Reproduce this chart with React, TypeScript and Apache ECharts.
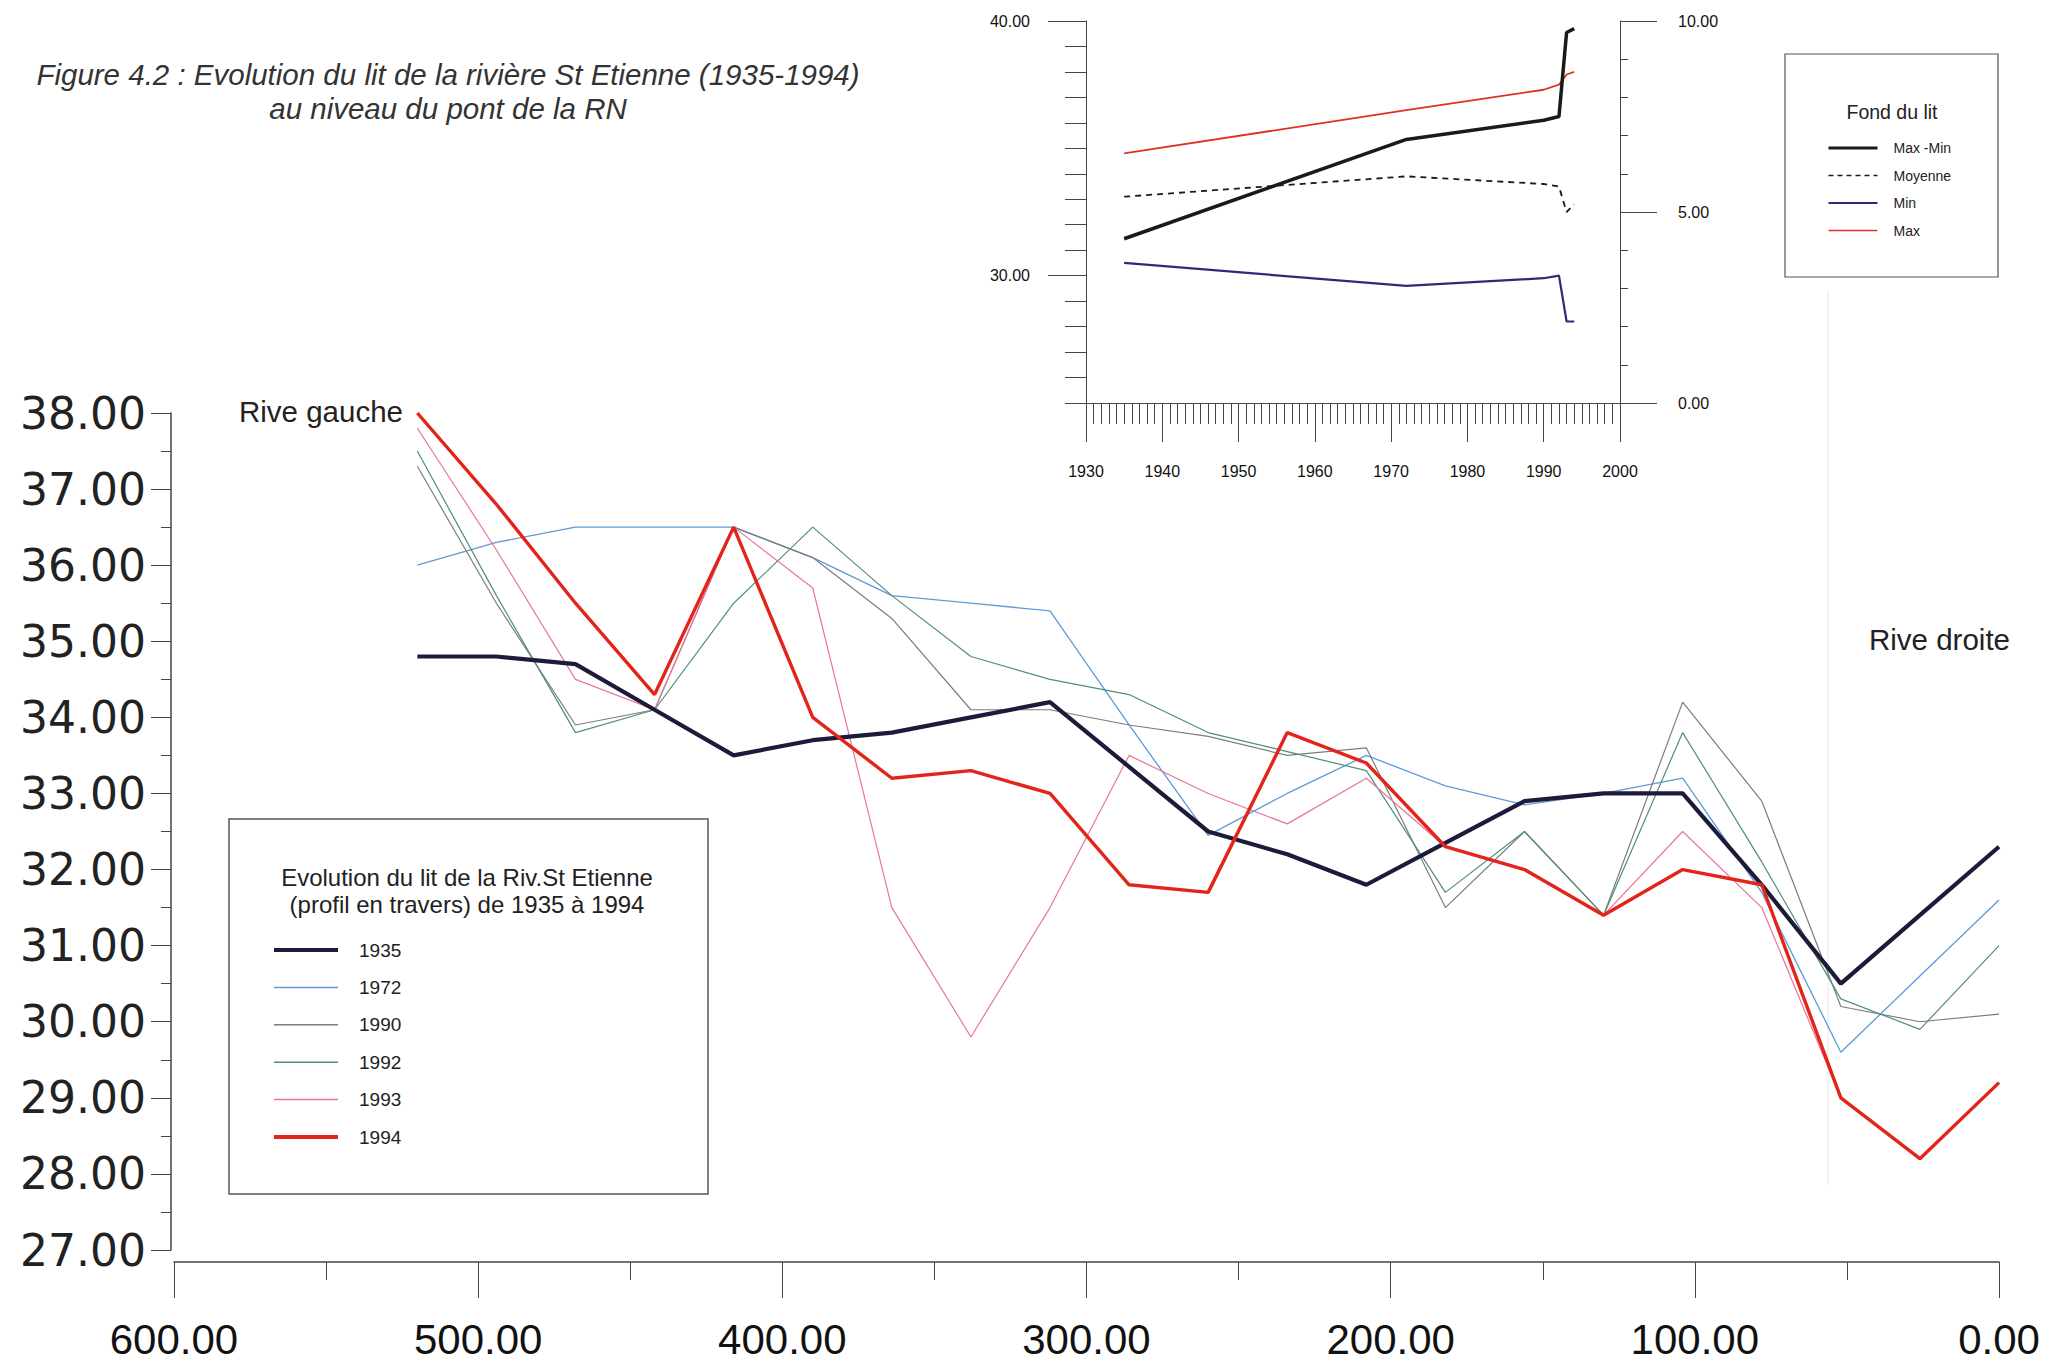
import React, { useEffect, useRef } from "react";
import * as echarts from "echarts";

// ---- Main chart data (cross-section profile, distance in m) ----
const distances = [520, 494, 468, 442, 416, 390, 364, 338, 312, 286, 260, 234, 208, 182, 156, 130, 104, 78, 52, 26, 0];
const y1935 = [34.8, 34.8, 34.7, 34.1, 33.5, 33.7, 33.8, 34.0, 34.2, 33.35, 32.5, 32.2, 31.8, 32.35, 32.9, 33.0, 33.0, 31.8, 30.5, 31.4, 32.3];
const y1972 = [36.0, 36.3, 36.5, 36.5, 36.5, 36.1, 35.6, 35.5, 35.4, 33.9, 32.45, 33.0, 33.5, 33.1, 32.85, 33.0, 33.2, 31.7, 29.6, 30.6, 31.6];
const y1990 = [37.3, 35.5, 33.9, 34.1, 36.5, 36.1, 35.3, 34.1, 34.1, 33.9, 33.75, 33.5, 33.6, 31.5, 32.5, 31.4, 34.2, 32.9, 30.2, 30.0, 30.1];
const y1992 = [37.5, 35.6, 33.8, 34.1, 35.5, 36.5, 35.6, 34.8, 34.5, 34.3, 33.8, 33.55, 33.3, 31.7, 32.5, 31.4, 33.8, 32.1, 30.3, 29.9, 31.0];
const y1993 = [37.8, 36.2, 34.5, 34.1, 36.5, 35.7, 31.5, 29.8, 31.5, 33.5, 33.0, 32.6, 33.2, 32.3, 32.0, 31.4, 32.5, 31.5, 29.0, 28.2, 29.2];
const y1994 = [38.0, 36.8, 35.5, 34.3, 36.5, 34.0, 33.2, 33.3, 33.0, 31.8, 31.7, 33.8, 33.4, 32.3, 32.0, 31.4, 32.0, 31.8, 29.0, 28.2, 29.2];
const yearNames = ["1935", "1972", "1990", "1992", "1993", "1994"];

// ---- Inset data (Fond du lit) ----
const insetYears = [1935, 1972, 1990, 1992, 1993, 1994];
const insetMax = [34.8, 36.5, 37.3, 37.5, 37.9, 38.0];
const insetMin = [30.5, 29.6, 29.9, 30.0, 28.2, 28.2];
const insetMoyenne = [33.1, 33.9, 33.6, 33.5, 32.5, 32.8];
const insetEcart = [4.3, 6.9, 7.4, 7.5, 9.7, 9.8];

const SANS = "'Liberation Sans', Arial, sans-serif";

const colors: Record<string, string> = {
  "1935": "#1e1b3a",
  "1972": "#5d9ad8",
  "1990": "#7a7d80",
  "1992": "#4f8f78",
  "1993": "#e8759a",
  "1994": "#e3241b",
};
const widths: Record<string, number> = {
  "1935": 4.2,
  "1972": 1.3,
  "1990": 1.2,
  "1992": 1.2,
  "1993": 1.2,
  "1994": 3.4,
};

function pairs(xs: number[], ys: number[]) {
  return xs.map((x, i) => [x, ys[i]]);
}

function txt(x: number, y: number, text: string, fontSize: number, align: string, extra: any = {}) {
  return {
    type: "text",
    x,
    y,
    style: {
      text,
      fontSize,
      fontFamily: SANS,
      fill: "#222",
      textAlign: align,
      textVerticalAlign: "middle",
      align,
      verticalAlign: "middle",
      ...extra,
    },
  };
}

export default function App() {
  const ref = useRef<HTMLDivElement>(null);
  useEffect(() => {
    if (!ref.current) return;
    const chart = echarts.init(ref.current, undefined, { renderer: "svg" });
    const mainData: Record<string, number[]> = {
      "1935": y1935,
      "1972": y1972,
      "1990": y1990,
      "1992": y1992,
      "1993": y1993,
      "1994": y1994,
    };
    const drawOrder = ["1972", "1990", "1992", "1993", "1935", "1994"];
    const mainSeries = drawOrder.map((name) => ({
      name,
      type: "line",
      xAxisIndex: 0,
      yAxisIndex: 0,
      symbol: "none",
      showSymbol: false,
      data: pairs(distances, mainData[name]),
      lineStyle: { color: colors[name], width: widths[name] },
      itemStyle: { color: colors[name] },
      z: name === "1994" ? 6 : name === "1935" ? 5 : 3,
    }));

    const axisColor = "#444";
    const option: any = {
      animation: false,
      backgroundColor: "#ffffff",
      grid: [
        { left: 174, right: 49, top: 413, bottom: 111 },
        { left: 1086, right: 428, top: 21, bottom: 958 },
      ],
      xAxis: [
        {
          gridIndex: 0,
          type: "value",
          min: 0,
          max: 600,
          interval: 100,
          inverse: true,
          offset: 12,
          axisLine: { show: true, onZero: false, lineStyle: { color: axisColor, width: 1.5 } },
          axisTick: { show: true, length: 36, lineStyle: { color: axisColor, width: 1 } },
          minorTick: { show: true, splitNumber: 2, length: 18, lineStyle: { color: axisColor, width: 1 } },
          splitLine: { show: false },
          axisLabel: {
            formatter: (v: number) => v.toFixed(2),
            margin: 56,
            fontSize: 42,
            lineHeight: 42,
            fontFamily: SANS,
            color: "#111",
          },
        },
        {
          gridIndex: 1,
          type: "value",
          min: 1930,
          max: 2000,
          interval: 10,
          axisLine: { show: true, onZero: false, lineStyle: { color: axisColor, width: 1 } },
          axisTick: { show: true, length: 39, lineStyle: { color: axisColor, width: 1 } },
          minorTick: { show: true, splitNumber: 10, length: 21, lineStyle: { color: axisColor, width: 1 } },
          splitLine: { show: false },
          axisLabel: {
            formatter: (v: number) => String(v),
            margin: 60,
            fontSize: 16,
            fontFamily: SANS,
            color: "#111",
          },
        },
      ],
      yAxis: [
        {
          gridIndex: 0,
          type: "value",
          position: "left",
          min: 27,
          max: 38,
          interval: 1,
          offset: 3,
          axisLine: { show: true, onZero: false, lineStyle: { color: axisColor, width: 1.5 } },
          axisTick: { show: true, length: 20, lineStyle: { color: axisColor, width: 1 } },
          minorTick: { show: true, splitNumber: 2, length: 10, lineStyle: { color: axisColor, width: 1 } },
          splitLine: { show: false },
          axisLabel: {
            formatter: (v: number) => v.toFixed(2),
            margin: 25,
            fontSize: 44,
            fontFamily: "'DejaVu Sans', sans-serif",
            color: "#222",
          },
        },
        {
          gridIndex: 1,
          type: "value",
          position: "left",
          min: 25,
          max: 40,
          interval: 1,
          axisLine: { show: true, onZero: false, lineStyle: { color: axisColor, width: 1 } },
          axisTick: { show: true, length: 21, lineStyle: { color: axisColor, width: 1 } },
          splitLine: { show: false },
          axisLabel: { show: false },
        },
        {
          gridIndex: 1,
          type: "value",
          position: "left",
          min: 25,
          max: 40,
          axisLine: { show: false, onZero: false },
          axisTick: { show: true, length: 38, customValues: [30, 40], lineStyle: { color: axisColor, width: 1 } },
          splitLine: { show: false },
          axisLabel: {
            customValues: [30, 40],
            formatter: (v: number) => v.toFixed(2),
            margin: 56,
            fontSize: 16,
            fontFamily: SANS,
            color: "#111",
          },
        },
        {
          gridIndex: 1,
          type: "value",
          position: "right",
          min: 0,
          max: 10,
          interval: 5,
          axisLine: { show: true, onZero: false, lineStyle: { color: axisColor, width: 1 } },
          axisTick: { show: true, length: 37, lineStyle: { color: axisColor, width: 1 } },
          minorTick: { show: true, splitNumber: 5, length: 8, lineStyle: { color: axisColor, width: 1 } },
          splitLine: { show: false },
          axisLabel: {
            formatter: (v: number) => v.toFixed(2),
            margin: 58,
            fontSize: 16,
            fontFamily: SANS,
            color: "#111",
          },
        },
      ],
      legend: [
        {
          data: yearNames.map((n) => ({
            name: n,
            lineStyle: { width: n === "1935" || n === "1994" ? 4 : 1.5, color: colors[n] },
            itemStyle: { opacity: 0 },
          })),
          orient: "vertical",
          left: 267,
          top: 935,
          itemWidth: 64,
          itemHeight: 14,
          itemGap: 17.4,
          selectedMode: false,
          itemStyle: { opacity: 0 },
          textStyle: { fontSize: 19, lineHeight: 20, fontFamily: SANS, color: "#222", padding: [0, 0, 0, 16] },
        },
        {
          data: [
            { name: "Max -Min", lineStyle: { width: 3, color: "#1a1a1a" }, itemStyle: { opacity: 0 } },
            { name: "Moyenne", lineStyle: { width: 1.5, color: "#1a1a1a", type: [5, 4] }, itemStyle: { opacity: 0 } },
            { name: "Min", lineStyle: { width: 2.2, color: "#2b2b7a" }, itemStyle: { opacity: 0 } },
            { name: "Max", lineStyle: { width: 1.5, color: "#e03020" }, itemStyle: { opacity: 0 } },
          ],
          orient: "vertical",
          left: 1822,
          top: 136,
          itemWidth: 49,
          itemHeight: 12,
          itemGap: 13.5,
          selectedMode: false,
          itemStyle: { opacity: 0 },
          textStyle: { fontSize: 14, lineHeight: 14, fontFamily: SANS, color: "#222", padding: [0, 0, 0, 11] },
        },
      ],
      series: [
        ...mainSeries,
        {
          name: "Max",
          type: "line",
          xAxisIndex: 1,
          yAxisIndex: 1,
          symbol: "none",
          data: pairs(insetYears, insetMax),
          lineStyle: { color: "#e03020", width: 1.8 },
          itemStyle: { color: "#e03020" },
        },
        {
          name: "Min",
          type: "line",
          xAxisIndex: 1,
          yAxisIndex: 1,
          symbol: "none",
          data: pairs(insetYears, insetMin),
          lineStyle: { color: "#2b2b7a", width: 2.2 },
          itemStyle: { color: "#2b2b7a" },
        },
        {
          name: "Moyenne",
          type: "line",
          xAxisIndex: 1,
          yAxisIndex: 1,
          symbol: "none",
          data: pairs(insetYears, insetMoyenne),
          lineStyle: { color: "#1a1a1a", width: 1.8, type: [6, 5] },
          itemStyle: { color: "#1a1a1a" },
        },
        {
          name: "Max -Min",
          type: "line",
          xAxisIndex: 1,
          yAxisIndex: 3,
          symbol: "none",
          data: pairs(insetYears, insetEcart),
          lineStyle: { color: "#1a1a1a", width: 3.5 },
          itemStyle: { color: "#1a1a1a" },
          z: 4,
        },
      ],
      graphic: [
        {
          type: "line",
          shape: { x1: 1828, y1: 290, x2: 1828, y2: 1185 },
          style: { stroke: "#f3f3f3", lineWidth: 2 },
          z: -1,
        },
        txt(448, 74, "Figure 4.2 : Evolution du lit de la rivière St Etienne (1935-1994)", 29.5, "center", {
          fontStyle: "italic",
          fill: "#333",
        }),
        txt(448, 108, "au niveau du pont de la RN", 29.5, "center", { fontStyle: "italic", fill: "#333" }),
        txt(239, 411, "Rive gauche", 29.5, "left"),
        txt(1869, 639, "Rive droite", 29.5, "left"),
        {
          type: "rect",
          shape: { x: 229, y: 819, width: 479, height: 375 },
          style: { fill: "none", stroke: "#555", lineWidth: 1.5 },
        },
        txt(467, 877, "Evolution du lit de la Riv.St Etienne", 24, "center"),
        txt(467, 904, "(profil en travers) de 1935 à 1994", 24, "center"),
        {
          type: "rect",
          shape: { x: 1785, y: 54, width: 213, height: 223 },
          style: { fill: "none", stroke: "#555", lineWidth: 1.2 },
        },
        txt(1892, 112, "Fond du lit", 19.5, "center"),
      ],
    };
    chart.setOption(option);
    return () => chart.dispose();
  }, []);
  return (
    <div
      ref={ref}
      style={{ position: "fixed", left: 0, top: 0, width: 2048, height: 1361, background: "#fff" }}
    />
  );
}
